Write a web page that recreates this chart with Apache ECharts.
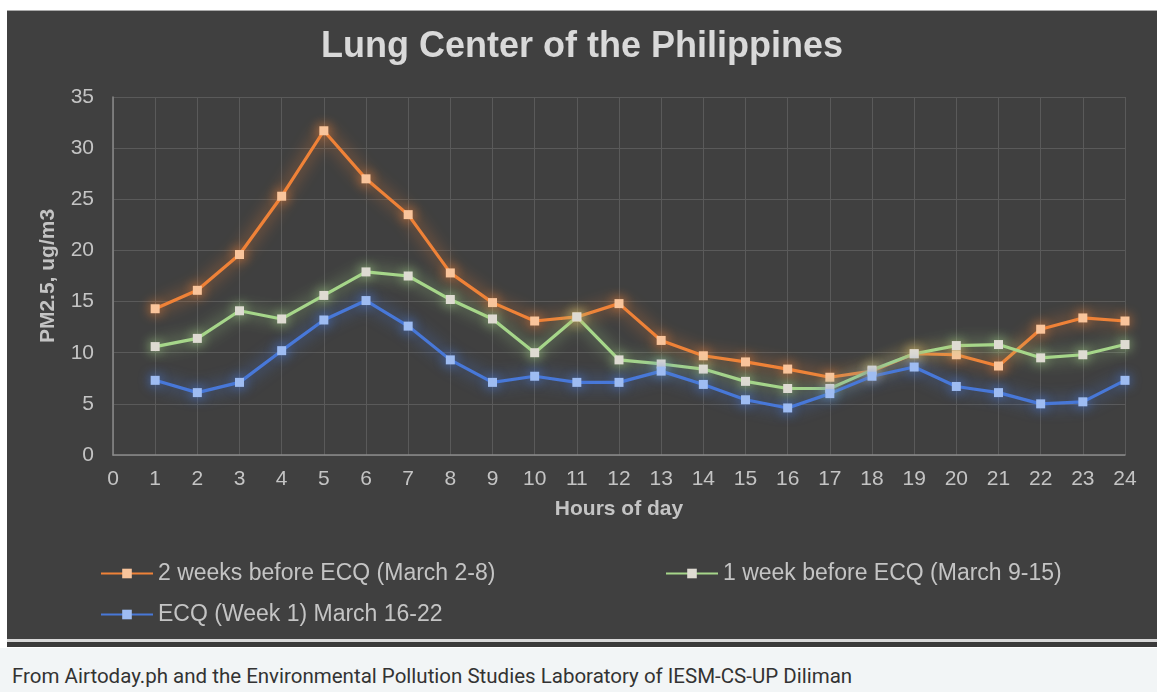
<!DOCTYPE html>
<html>
<head>
<meta charset="utf-8">
<script src="https://cdn.jsdelivr.net/npm/echarts@6/dist/echarts.min.js"></script>
<style>
  html, body { margin: 0; padding: 0; background: #fff; }
  .page { position: relative; width: 1157px; height: 692px; overflow: hidden; }
  .panel { position: absolute; left: 7px; top: 10px; width: 1150px; height: 628px; background: #404040; border-top: 1px solid #aaa; }
  .rule { position: absolute; left: 7px; top: 639px; width: 1150px; height: 3px; background: #d8d8d8; }
  .rule2 { position: absolute; left: 7px; top: 642px; width: 1150px; height: 5px; background: #3a3a3a; }
  .caption-strip { position: absolute; left: 0; top: 648px; width: 1157px; height: 44px; background: #f2f5f6; }
  .caption { position: absolute; left: 12px; top: 664px; font: 20.5px Roboto, "Noto Sans", sans-serif; color: #333; white-space: nowrap; }
  #chart { position: absolute; left: 7px; top: 10px; width: 1150px; height: 628px; }
</style>
</head>
<body>
<div class="page">
  <div class="panel"></div>
  <div class="rule"></div>
  <div class="rule2"></div>
  <div class="caption-strip"></div>
  <div class="caption">From Airtoday.ph and the Environmental Pollution Studies Laboratory of IESM-CS-UP Diliman</div>
  <div id="chart"></div>
</div>
<script>
// hours 1..24
const hours = [1, 2, 3, 4, 5, 6, 7, 8, 9, 10, 11, 12, 13, 14, 15, 16, 17, 18, 19, 20, 21, 22, 23, 24];
const twoWeeksBefore = [14.3, 16.1, 19.6, 25.3, 31.7, 27.0, 23.5, 17.8, 14.9, 13.1, 13.5, 14.8, 11.2, 9.7, 9.1, 8.4, 7.6, 8.2, 9.9, 9.8, 8.7, 12.3, 13.4, 13.1];
const oneWeekBefore = [10.6, 11.4, 14.1, 13.3, 15.6, 17.9, 17.5, 15.2, 13.3, 10.0, 13.5, 9.3, 8.9, 8.4, 7.2, 6.5, 6.5, 8.3, 9.9, 10.7, 10.8, 9.5, 9.8, 10.8];
const ecqWeek1 = [7.3, 6.1, 7.1, 10.2, 13.2, 15.1, 12.6, 9.3, 7.1, 7.7, 7.1, 7.1, 8.2, 6.9, 5.4, 4.6, 6.0, 7.7, 8.6, 6.7, 6.1, 5.0, 5.2, 7.3];
const seriesNames = ['2 weeks before ECQ (March 2-8)', '1 week before ECQ (March 9-15)', 'ECQ (Week 1) March 16-22'];

const textColor = '#c4c4c4';
const font = '"Liberation Sans", Arial, sans-serif';

const pairs = (vals) => hours.map((h, i) => [h, vals[i]]);

const makeSeries = (name, vals, lineColor, markColor) => ({
  name: name,
  type: 'line',
  data: pairs(vals),
  symbol: 'rect',
  symbolSize: 9,
  showAllSymbol: true,
  lineStyle: { color: lineColor, width: 3.2, shadowColor: lineColor, shadowBlur: 16 },
  itemStyle: { color: markColor, shadowColor: lineColor, shadowBlur: 12 },
  emphasis: { disabled: true },
  z: 3,
});

const legendBase = {
  itemWidth: 52,
  itemHeight: 12,
  itemGap: 3,
  padding: 0,
  textStyle: { color: textColor, fontSize: 23, fontFamily: font },
};

const chart = echarts.init(document.getElementById('chart'));
chart.setOption({
  animation: false,
  backgroundColor: 'transparent',
  title: {
    text: 'Lung Center of the Philippines',
    left: 'center',
    top: 14,
    textStyle: { color: '#d9d9d9', fontSize: 36, fontWeight: 'bold', fontFamily: font },
  },
  grid: { left: 106, right: 32, top: 87, bottom: 183 },
  legend: [
    Object.assign({}, legendBase, { data: [seriesNames[0]], left: 93, top: 552 }),
    Object.assign({}, legendBase, { data: [seriesNames[1]], left: 658, top: 552 }),
    Object.assign({}, legendBase, { data: [seriesNames[2]], left: 93, top: 593 }),
  ],
  xAxis: {
    type: 'value',
    min: 0,
    max: 24,
    interval: 1,
    name: 'Hours of day',
    nameLocation: 'middle',
    nameGap: 44,
    nameTextStyle: { color: textColor, fontSize: 21, fontWeight: 'bold', fontFamily: font },
    axisLine: { lineStyle: { color: '#8a8a8a', width: 1.5 } },
    axisTick: { show: false },
    axisLabel: { color: textColor, fontSize: 21, fontFamily: font, margin: 14 },
    splitLine: { show: true, lineStyle: { color: '#5a5a5a', width: 1 } },
  },
  yAxis: {
    type: 'value',
    min: 0,
    max: 35,
    interval: 5,
    name: 'PM2.5, ug/m3',
    nameLocation: 'middle',
    nameGap: 54,
    nameTextStyle: { color: textColor, fontSize: 21, fontWeight: 'bold', fontFamily: font },
    axisLine: { show: true, lineStyle: { color: '#8a8a8a', width: 1.5 } },
    axisTick: { show: false },
    axisLabel: { color: textColor, fontSize: 21, fontFamily: font, margin: 19 },
    splitLine: { show: true, lineStyle: { color: '#5a5a5a', width: 1 } },
  },
  series: [
    makeSeries(seriesNames[0], twoWeeksBefore, '#ef8238', '#f9c49b'),
    makeSeries(seriesNames[1], oneWeekBefore, '#a6d68a', '#dedbd2'),
    makeSeries(seriesNames[2], ecqWeek1, '#4878d8', '#9ebcf2'),
  ],
});
</script>
</body>
</html>
